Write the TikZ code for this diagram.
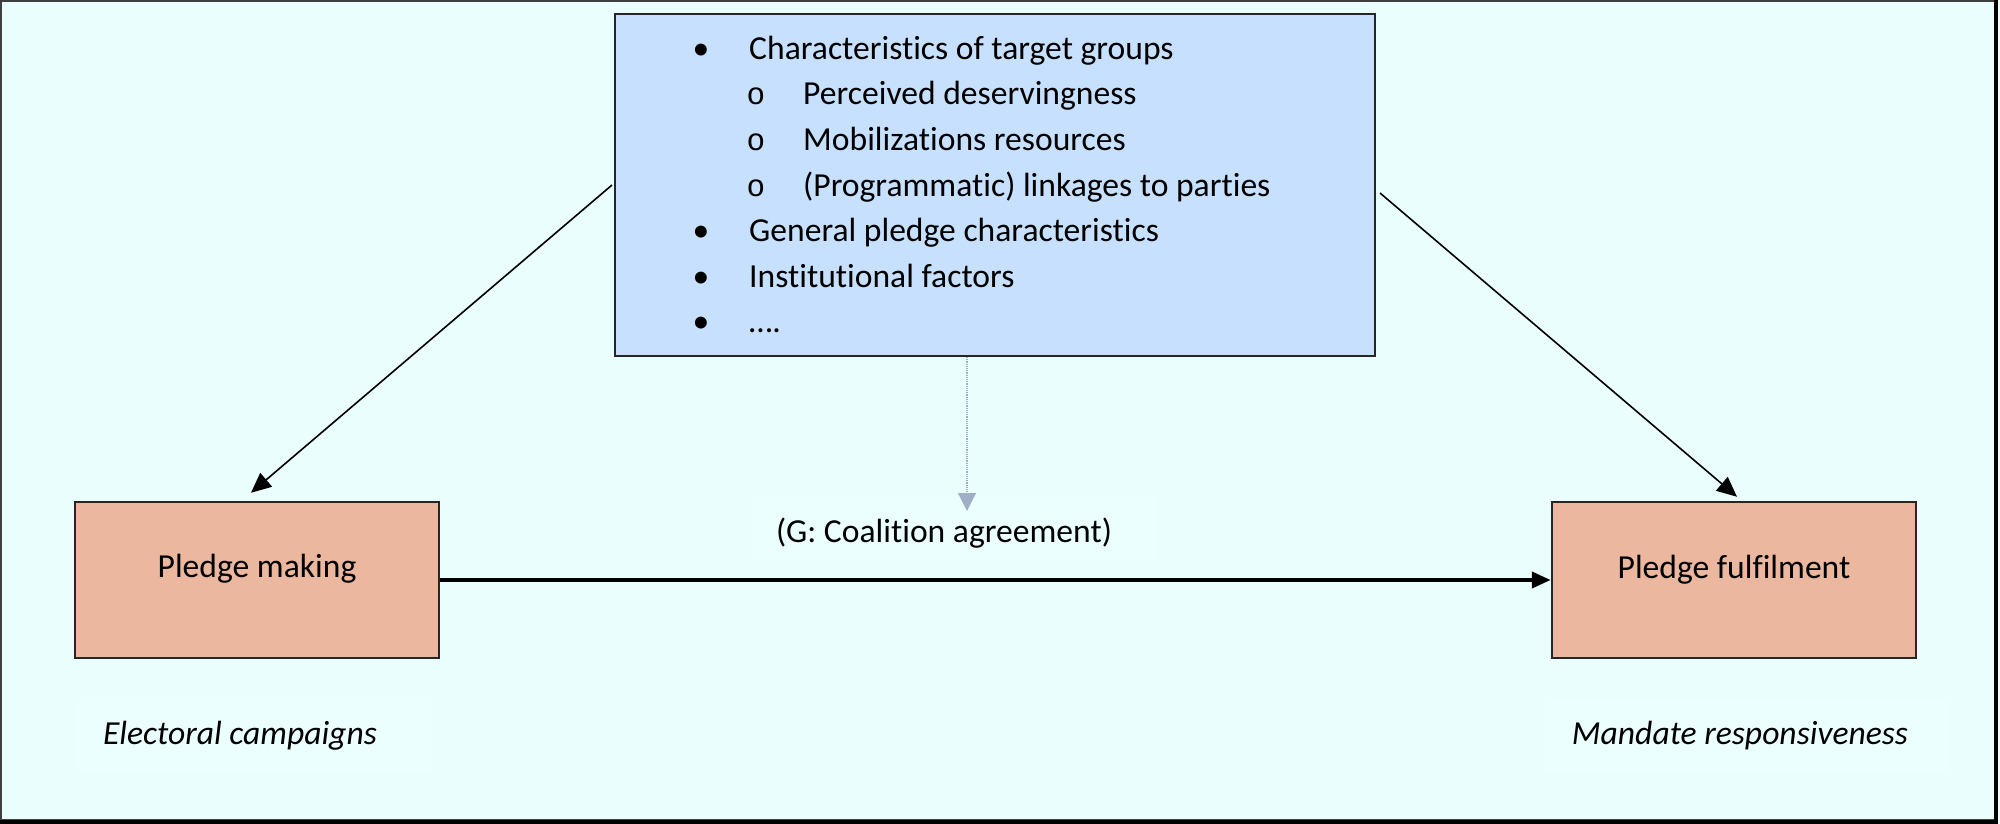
\documentclass[tikz,border=0pt]{standalone}
\usepackage{fontspec}
\setmainfont{Carlito}[Ligatures=NoCommon]
\newfontfamily\monofam{Liberation Mono}
\usetikzlibrary{arrows.meta,calc}
\definecolor{bgc}{RGB}{234,254,254}
\definecolor{faintc}{RGB}{236,255,255}
\definecolor{bluec}{RGB}{198,224,253}
\definecolor{salmonc}{RGB}{235,184,159}
\definecolor{dotc}{RGB}{160,174,200}
\tikzset{
  txt/.style={inner sep=0pt, font=\fontsize{33.6}{40}\selectfont},
  itxt/.style={txt, font=\fontsize{33.6}{40}\selectfont\itshape},
  subtxt/.style={inner sep=0pt, font=\fontsize{31}{40}\selectfont\monofam},
  bulletbox/.style={draw=black!85, fill=bluec, line width=2pt, minimum width=760pt, minimum height=342pt, inner sep=0pt},
  pledgebox/.style={draw=black!85, fill=salmonc, line width=2.5pt, minimum width=364pt, minimum height=156pt, inner sep=0pt},
  faintbox/.style={fill=faintc, inner sep=0pt},
  thinarrow/.style={line width=1.6pt, -{Triangle[length=20pt,width=18pt]}},
  thickarrow/.style={line width=4pt, -{Triangle[length=19pt,width=16pt]}},
  dotarrow/.style={line width=1.2pt, dotc, densely dotted, -{Triangle[length=18pt,width=18pt,fill=dotc]}},
}
\begin{document}
\begin{tikzpicture}[x=1pt,y=-1pt]
\useasboundingbox (0,0) rectangle (2000,824);
\fill[bgc] (0,0) rectangle (2000,824);
\draw[line width=2pt, draw=black!75] (1,1) rectangle (1995,820);
\draw[line width=4pt] (1996,0) -- (1996,822) -- (0,822);

% faint text boxes
\node[faintbox, minimum width=355pt, minimum height=74pt] (fe) at (254.5,735) {};
\node[faintbox, minimum width=405pt, minimum height=73pt] (fm) at (1747.5,735.5) {};
\node[faintbox, minimum width=406pt, minimum height=67pt] (fg) at (955,528.5) {};

% main boxes
\node[bulletbox] (blue) at (995,185) {};
\node[pledgebox] (pm) at (257,580) {};
\node[pledgebox] (pf) at (1734,580) {};

% bullet list
\node[txt, anchor=base] (b1) at (701,60) {•};
\node[txt, anchor=base west] (t1) at (749,60) {Characteristics of target groups};
\node[subtxt, anchor=base] (s1) at (756,105) {o};
\node[txt, anchor=base west] (u1) at (803,105) {Perceived deservingness};
\node[subtxt, anchor=base] (s2) at (756,151) {o};
\node[txt, anchor=base west] (u2) at (803,151) {Mobilizations resources};
\node[subtxt, anchor=base] (s3) at (756,196) {o};
\node[txt, anchor=base west] (u3) at (803,196) {(Programmatic) linkages to parties};
\node[txt, anchor=base] (b2) at (701,241) {•};
\node[txt, anchor=base west] (t2) at (749,241) {General pledge characteristics};
\node[txt, anchor=base] (b3) at (701,287) {•};
\node[txt, anchor=base west] (t3) at (749,287) {Institutional factors};
\node[txt, anchor=base] (b4) at (701,332) {•};
\node[txt, anchor=base west] (t4) at (749,332) {….};

% labels
\node[txt, anchor=base] (pmt) at (257,577) {Pledge making};
\node[txt, anchor=base] (pft) at (1734,578) {Pledge fulfilment};
\node[itxt, anchor=base] (ec) at (240,744) {Electoral campaigns};
\node[itxt, anchor=base] (mr) at (1740,744) {Mandate responsiveness};
\node[txt, anchor=base] (ga) at (944,542) {(G: Coalition agreement)};

% connectors
\coordinate (dtop) at ($(blue.south)+(-28,0)$);
\coordinate (dend) at ($(blue.south)+(-28,154)$);
\draw[thinarrow] ([xshift=-2pt]blue.west) -- ([shift={(-6,-8)}]pm.north);
\draw[thinarrow] ([shift={(4,8)}]blue.east) -- ([shift={(3,-4)}]pf.north);
\draw[dotarrow] (dtop) -- (dend);
\draw[thickarrow] (pm.east) -- (pf.west);
\end{tikzpicture}
\end{document}
